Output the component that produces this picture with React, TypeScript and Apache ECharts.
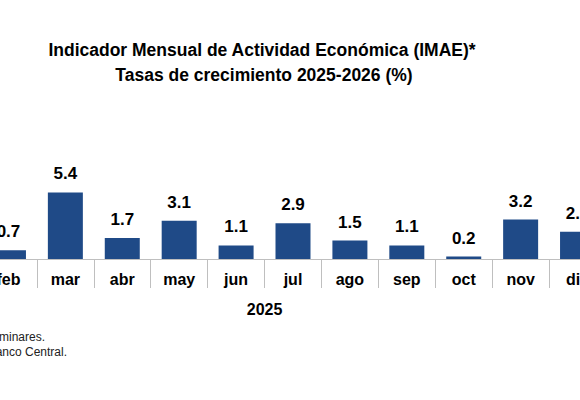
import React, { useEffect, useRef } from "react";
import * as echarts from "echarts";

const categories = ["feb", "mar", "abr", "may", "jun", "jul", "ago", "sep", "oct", "nov", "dic"];
const values = [0.7, 5.4, 1.7, 3.1, 1.1, 2.9, 1.5, 1.1, 0.2, 3.2, 2.2];
const yearLabel = "2025";
const yearSplit = ["jun", "jul"];
const titleLines = [
  "Indicador Mensual de Actividad Económica (IMAE)*",
  "Tasas de crecimiento 2025-2026 (%)",
];
const notes = ["*Cifras preliminares.", "Fuente: Banco Central."];

const FONT = '"Liberation Sans", Arial, Helvetica, sans-serif';
const BAR = "#1f4a87";
const GRAY = "#bfbfbf";

export default function App() {
  const ref = useRef<HTMLDivElement>(null);
  useEffect(() => {
    if (!ref.current) return;
    const chart = echarts.init(ref.current, null, { renderer: "svg" });
    const option: any = {
      animation: false,
      backgroundColor: "#ffffff",
      textStyle: { fontFamily: FONT },
      grid: { left: -20, right: -26, top: 185, bottom: 141, outerBoundsMode: "none" },
      xAxis: {
        type: "category",
        data: categories,
        axisLine: { show: true, lineStyle: { color: GRAY, width: 1 } },
        axisTick: { show: true, interval: 0, length: 29, lineStyle: { color: GRAY, width: 1 } },
        axisLabel: {
          interval: 0,
          color: "#000",
          fontWeight: "bold",
          fontSize: 16,
          margin: 12,
          fontFamily: FONT,
        },
        splitLine: { show: false },
      },
      yAxis: {
        type: "value",
        min: 0,
        max: 6,
        show: false,
        splitLine: { show: false },
      },
      series: [
        {
          type: "bar",
          data: values,
          barCategoryGap: "38.5%",
          itemStyle: { color: BAR },
          label: {
            show: true,
            position: "top",
            distance: 10,
            color: "#000",
            fontWeight: "bold",
            fontSize: 17,
            fontFamily: FONT,
            formatter: (p: any) => Number(p.value).toFixed(1),
          },
        },
      ],
    };
    chart.setOption(option);
    const x1 = chart.convertToPixel({ xAxisIndex: 0 }, yearSplit[0]) as number;
    const x2 = chart.convertToPixel({ xAxisIndex: 0 }, yearSplit[1]) as number;
    const yearX = (x1 + x2) / 2;
    chart.setOption({
      graphic: [
        {
          type: "text",
          x: 262,
          y: 50,
          style: {
            text: titleLines[0],
            font: `bold 17.5px ${FONT}`,
            fill: "#000",
            textAlign: "center",
            textVerticalAlign: "middle",
          },
        },
        {
          type: "text",
          x: 264,
          y: 75,
          style: {
            text: titleLines[1],
            font: `bold 17.5px ${FONT}`,
            fill: "#000",
            textAlign: "center",
            textVerticalAlign: "middle",
          },
        },
        {
          type: "text",
          x: yearX,
          y: 309,
          style: {
            text: yearLabel,
            font: `bold 16px ${FONT}`,
            fill: "#000",
            textAlign: "center",
            textVerticalAlign: "middle",
          },
        },
        {
          type: "text",
          x: 45,
          y: 337,
          style: {
            text: notes[0],
            font: `12px ${FONT}`,
            fill: "#222",
            textAlign: "right",
            textVerticalAlign: "middle",
          },
        },
        {
          type: "text",
          x: 67,
          y: 352,
          style: {
            text: notes[1],
            font: `12px ${FONT}`,
            fill: "#222",
            textAlign: "right",
            textVerticalAlign: "middle",
          },
        },
      ],
    });
    return () => chart.dispose();
  }, []);
  return (
    <div
      ref={ref}
      style={{ position: "fixed", left: 0, top: 0, width: 580, height: 400, background: "#fff" }}
    />
  );
}
